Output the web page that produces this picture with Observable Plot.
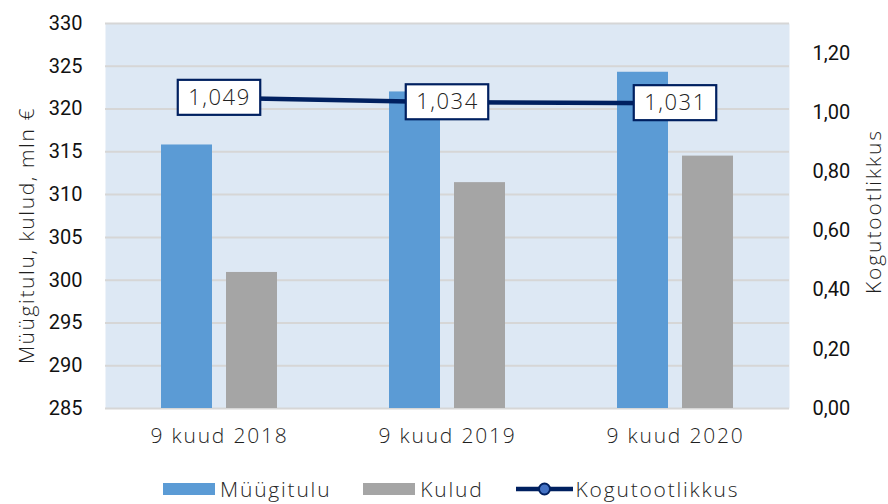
<!DOCTYPE html>
<html>
<head>
<meta charset="utf-8">
<script src="https://cdn.jsdelivr.net/npm/d3@7"></script>
<script src="https://cdn.jsdelivr.net/npm/@observablehq/plot@0.6"></script>
<style>
  html, body { margin: 0; padding: 0; background: #fff; }
  #wrap { position: relative; width: 888px; height: 504px; overflow: hidden; }
  .legend { position: absolute; top: 475px; left: 163px; display: flex; align-items: center;
    font-family: "Open Sans", sans-serif; font-weight: 300; font-size: 21px; letter-spacing: 1.8px; color: #262626; }
  .legend .item { display: flex; align-items: center; }
  .legend .sw { width: 52px; height: 12px; margin-right: 5px; }
  .legend svg { margin-right: 3px; }
</style>
</head>
<body>
<div id="wrap"></div>
<script>
const categories = ["9 kuud 2018", "9 kuud 2019", "9 kuud 2020"];
const revenue = [315.8, 322.0, 324.3];      // Müügitulu, mln €
const costs = [300.9, 311.4, 314.5];        // Kulud, mln €
const ratio = [1.049, 1.034, 1.031];        // Kogutootlikkus
const ratioLabels = ["1,049", "1,034", "1,031"];
const leftTicks = [285, 290, 295, 300, 305, 310, 315, 320, 325, 330];
const rightTicks = [0, 0.2, 0.4, 0.6, 0.8, 1.0, 1.2];
const seriesNames = ["Müügitulu", "Kulud", "Kogutootlikkus"];
const leftTitle = "Müügitulu, kulud, mln €";
const rightTitle = "Kogutootlikkus";

const leftMin = 285, leftMax = 330, rightMax = 1.3;
const toLeft = v => leftMin + v * (leftMax - leftMin) / rightMax;
const fromLeft = y => (y - leftMin) * rightMax / (leftMax - leftMin);

const blue = "#5b9bd5", gray = "#a5a5a5", navy = "#002060";

const revData = categories.map((c, i) => ({cat: c, value: revenue[i]}));
const costData = categories.map((c, i) => ({cat: c, value: costs[i]}));
const ratioData = categories.map((c, i) => ({cat: c, v: ratio[i], label: ratioLabels[i]}));

const plot = Plot.plot({
  width: 888,
  height: 462,
  marginLeft: 105,
  marginRight: 99,
  marginTop: 23,
  marginBottom: 54,
  style: {fontFamily: "Roboto, sans-serif", fontSize: "20px", color: "#111", background: "transparent"},
  x: {type: "band", domain: categories, padding: 0, axis: null},
  y: {domain: [leftMin, leftMax], axis: null},
  marks: [
    Plot.frame({fill: "#dde8f4", stroke: null}),
    Plot.gridY(leftTicks, {stroke: "#d6d6d6", strokeOpacity: 1, strokeWidth: 2}),
    Plot.barY(revData, {x: "cat", y1: leftMin, y2: "value", fill: blue, insetLeft: 56, insetRight: 121}),
    Plot.barY(costData, {x: "cat", y1: leftMin, y2: "value", fill: gray, insetLeft: 121, insetRight: 56}),
    Plot.line(ratioData, {x: "cat", y: d => toLeft(d.v), stroke: navy, strokeWidth: 4.5}),
    Plot.dot(ratioData, {x: "cat", y: d => toLeft(d.v), r: 5, fill: "#4472c4", stroke: navy, strokeWidth: 2}),
    Plot.text(ratioData, {x: "cat", y: d => toLeft(d.v), text: "label", fontSize: 22, fill: "#222",
      fontFamily: "Open Sans, sans-serif", fontWeight: 300}),
    Plot.axisY(leftTicks, {anchor: "left", tickSize: 0, tickPadding: 23, label: null, fontSize: 20}),
    Plot.axisY(rightTicks.map(toLeft), {anchor: "right", tickSize: 0, tickPadding: 23, label: null, fontSize: 20,
      tickFormat: y => fromLeft(y).toFixed(2).replace(".", ",")}),
    Plot.axisX({tickSize: 0, tickPadding: 20, label: null, fontSize: 21})
  ]
});

document.getElementById("wrap").appendChild(plot);
const svg = d3.select(plot);

// x tick labels font
svg.selectAll('g[aria-label="x-axis tick label"]')
  .attr("font-family", "Open Sans, sans-serif").attr("font-weight", 300)
  .style("letter-spacing", "1.8px").attr("fill", "#1f1f1f");
svg.selectAll('g[aria-label="y-axis tick label"]').attr("fill", "#111");

// label boxes around ratio values (placed in root SVG coordinates from the scales)
const xs = plot.scale("x"), ys = plot.scale("y");
const textGroup = svg.select('g[aria-label="text"]');
textGroup.style("letter-spacing", "1.5px");
textGroup.selectAll("text").each(function(_, i) {
  const bb = this.getBBox();
  const cx = xs.apply(ratioData[i].cat) + xs.bandwidth / 2;
  const cy = ys.apply(toLeft(ratioData[i].v));
  const w = bb.width + 20, h = 35;
  svg.insert("rect", () => textGroup.node())
    .attr("x", cx - w / 2).attr("y", cy - h / 2)
    .attr("width", w).attr("height", h)
    .attr("fill", "#fff").attr("stroke", navy).attr("stroke-width", 2.2);
});

// axis titles
const plotMid = (ys.apply(leftMin) + ys.apply(leftMax)) / 2;
svg.append("text")
  .attr("transform", `translate(34,${plotMid + 20}) rotate(-90)`)
  .attr("text-anchor", "middle")
  .attr("font-family", "Open Sans, sans-serif").attr("font-weight", 300)
  .attr("font-size", 21).style("letter-spacing", "1.6px").attr("fill", "#1f1f1f")
  .text(leftTitle);
svg.append("text")
  .attr("transform", `translate(881,${plotMid - 4}) rotate(-90)`)
  .attr("text-anchor", "middle")
  .attr("font-family", "Open Sans, sans-serif").attr("font-weight", 300)
  .attr("font-size", 21).style("letter-spacing", "1.9px").attr("fill", "#1f1f1f")
  .text(rightTitle);

// legend
const legend = d3.select("#wrap").append("div").attr("class", "legend");
const i1 = legend.append("div").attr("class", "item").style("margin-right", "32px");
i1.append("div").attr("class", "sw").style("background", blue);
i1.append("span").text(seriesNames[0]);
const i2 = legend.append("div").attr("class", "item").style("margin-right", "32px");
i2.append("div").attr("class", "sw").style("background", gray);
i2.append("span").text(seriesNames[1]);
const i3 = legend.append("div").attr("class", "item");
const ls = i3.append("svg").attr("width", 57).attr("height", 14);
ls.append("line").attr("x1", 0).attr("x2", 57).attr("y1", 7).attr("y2", 7)
  .attr("stroke", navy).attr("stroke-width", 4.5);
ls.append("circle").attr("cx", 28.5).attr("cy", 7).attr("r", 5.5)
  .attr("fill", "#4472c4").attr("stroke", navy).attr("stroke-width", 2);
i3.append("span").text(seriesNames[2]);
</script>
</body>
</html>
